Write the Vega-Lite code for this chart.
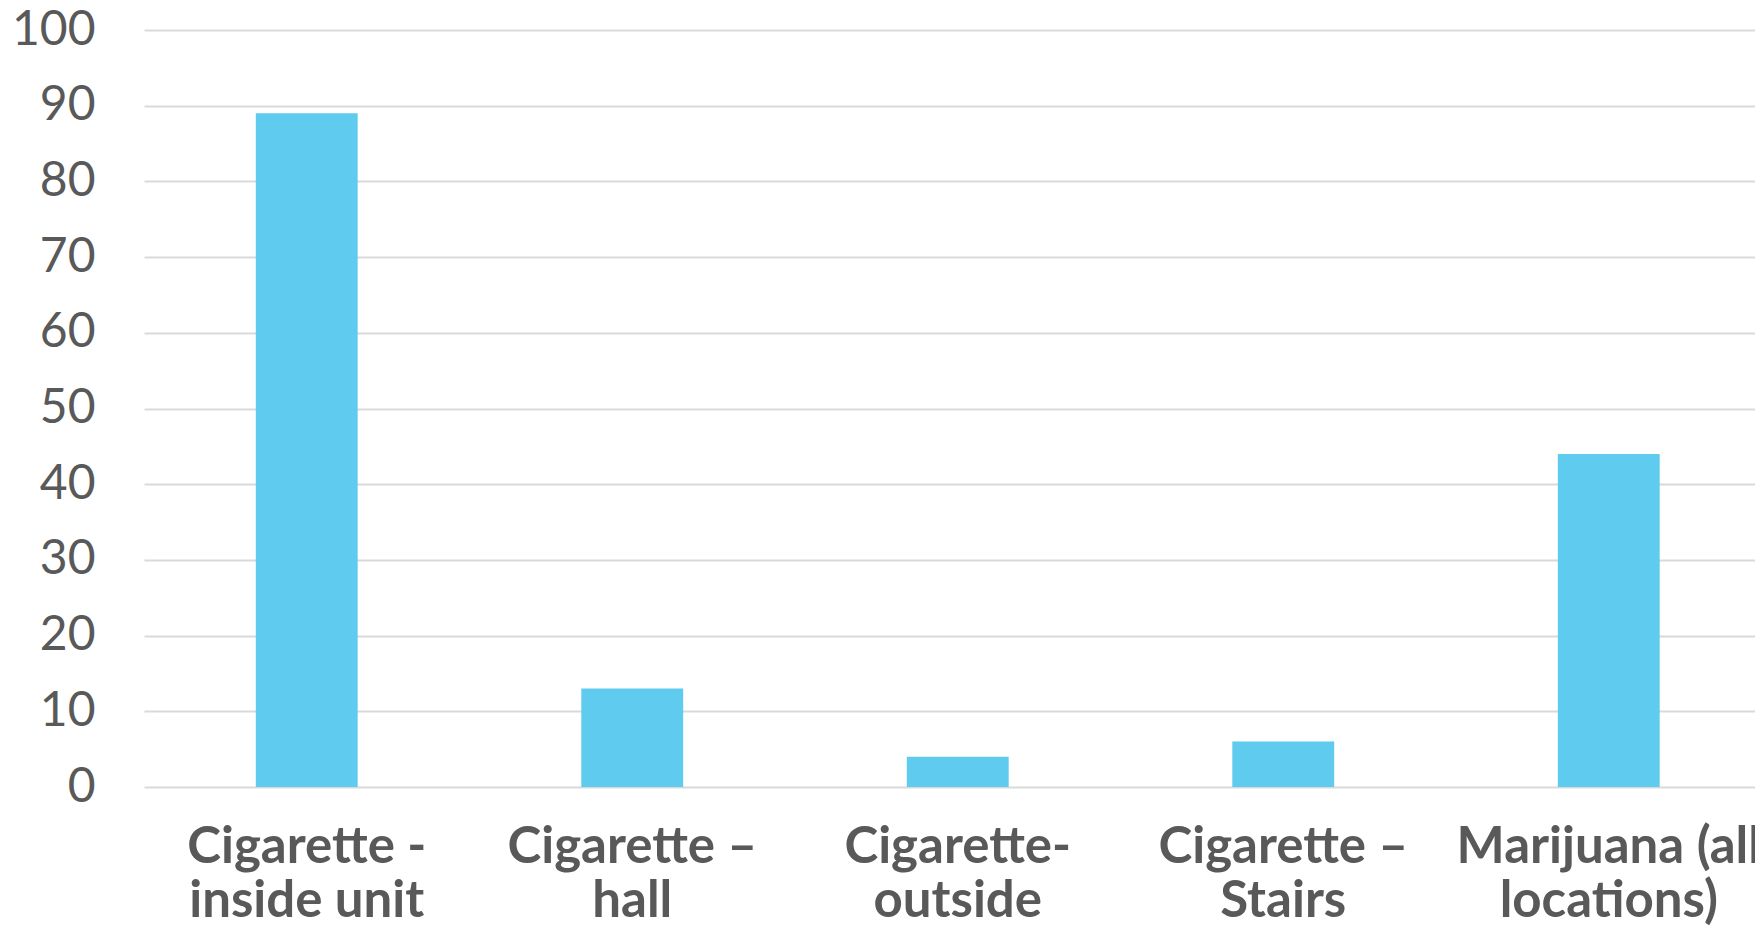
{
  "$schema": "https://vega.github.io/schema/vega-lite/v6.json",
  "autosize": {"type": "none"},
  "width": 1611,
  "height": 757,
  "padding": {"left": 144, "top": 30, "right": 0, "bottom": 141},
  "background": "white",
  "data": {
    "values": [
      {"location": "Cigarette -|inside unit", "value": 89},
      {"location": "Cigarette –|hall", "value": 13},
      {"location": "Cigarette-|outside", "value": 4},
      {"location": "Cigarette –|Stairs", "value": 6},
      {"location": "Marijuana (all|locations)", "value": 44}
    ]
  },
  "mark": {"type": "bar", "color": "#5fcbee"},
  "encoding": {
    "x": {
      "field": "location",
      "type": "nominal",
      "sort": null,
      "scale": {"range": [0, 1627.5], "paddingInner": 0.687, "paddingOuter": 0.3435},
      "axis": {
        "title": null,
        "labelAngle": 0,
        "labelExpr": "split(datum.label, '|')",
        "labelFont": "Lato",
        "labelFontWeight": "bold",
        "labelFontSize": 51,
        "labelColor": "#595959",
        "labelLineHeight": 54,
        "labelPadding": 35,
        "labelLimit": 0,
        "ticks": false,
        "domain": false,
        "grid": false
      }
    },
    "y": {
      "field": "value",
      "type": "quantitative",
      "scale": {"domain": [0, 100], "nice": false},
      "axis": {
        "title": null,
        "values": [0, 10, 20, 30, 40, 50, 60, 70, 80, 90, 100],
        "labelFont": "Lato",
        "labelFontSize": 48,
        "labelColor": "#595959",
        "labelPadding": 49,
        "ticks": false,
        "domain": false,
        "grid": true,
        "gridColor": "#d9d9d9",
        "gridWidth": 2
      }
    }
  },
  "config": {"view": {"stroke": null}}
}
